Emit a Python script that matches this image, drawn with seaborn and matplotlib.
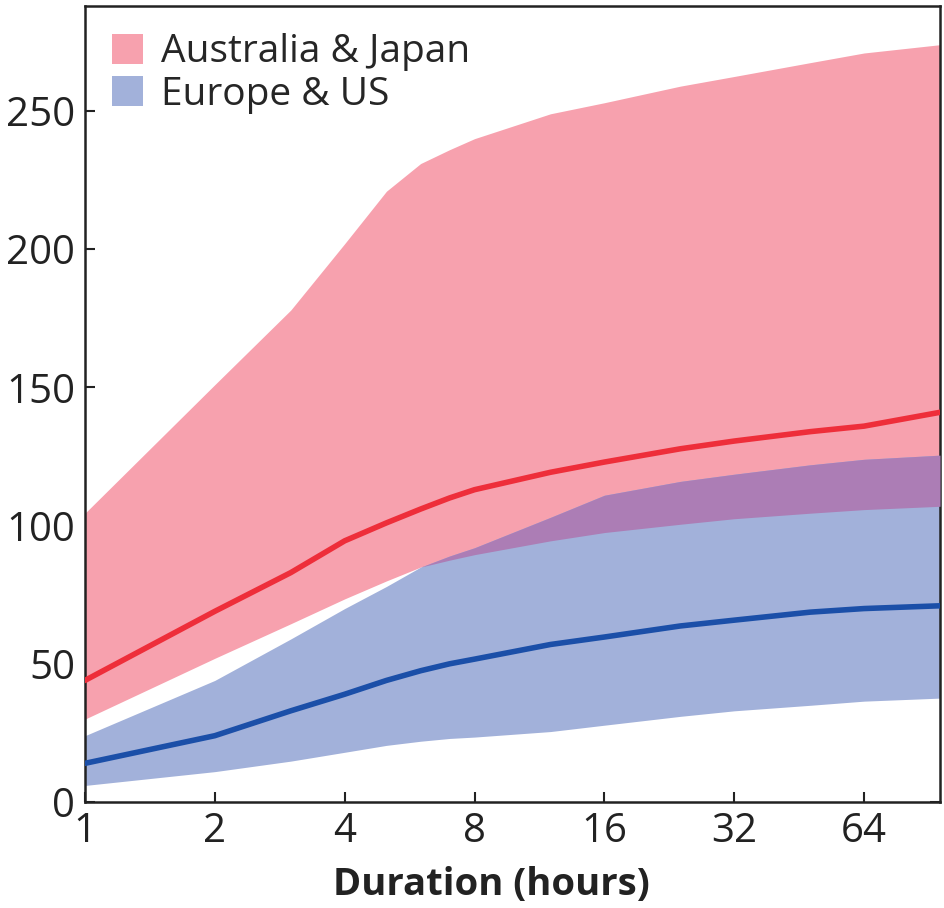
import matplotlib
matplotlib.use("Agg")
import matplotlib.pyplot as plt
import seaborn as sns
import numpy as np
import pandas as pd
from matplotlib.patches import Patch

# Data (duration in hours)
hours = [1, 2, 3, 4, 5, 6, 7, 8, 12, 16, 24, 32, 48, 64, 96]
aj_upper = [104.5, 151, 178, 202, 221, 231, 236, 240, 249, 253, 259, 262.5, 267.5, 271, 274]
aj_lower = [30, 52, 64.5, 73.5, 80, 85, 87.5, 89.5, 94.5, 97.5, 100.5, 102.5, 104.5, 105.8, 107]
aj_median = [44, 69, 83, 94.5, 101, 106, 110, 113, 119.3, 123, 127.8, 130.6, 134, 136, 141]
eu_upper = [24, 44, 59, 70, 78, 85, 89, 92, 103, 111, 116, 118.6, 122, 124, 125.5]
eu_lower = [6, 11, 14.8, 18, 20.5, 22, 23, 23.5, 25.5, 27.8, 31, 33, 35, 36.5, 37.6]
eu_median = [14, 24, 33, 39, 44, 47.5, 50, 51.7, 57, 59.7, 63.7, 65.8, 68.7, 70, 71]

series_names = ["Australia & Japan", "Europe & US"]
xticks = [1, 2, 4, 8, 16, 32, 64]
yticks = [0, 50, 100, 150, 200, 250]

pink = "#F7A1AE"
blue = "#A2B1DA"
purple = "#AC7DB5"
red_line = "#EE2E3A"
blue_line = "#1B4FA8"

sns.set_style("ticks")
plt.rcParams['font.family'] = ['Open Sans', 'DejaVu Sans']

fig = plt.figure(figsize=(9.44, 9.08), dpi=100)
ax = fig.add_axes([0.090, 0.1167, 0.9058, 0.8767])

x = np.array(hours, dtype=float)
aju = np.array(aj_upper); ajl = np.array(aj_lower)
euu = np.array(eu_upper); eul = np.array(eu_lower)

ax.fill_between(x, ajl, aju, color=pink, lw=0, zorder=1)
ax.fill_between(x, eul, euu, color=blue, lw=0, zorder=2)
ax.fill_between(x, ajl, np.minimum(euu, aju), where=euu >= ajl, interpolate=True,
                color=purple, lw=0, zorder=3)

df = pd.DataFrame({"hours": hours + hours,
                   "value": aj_median + eu_median,
                   "group": [series_names[0]] * len(hours) + [series_names[1]] * len(hours)})
sns.lineplot(data=df, x="hours", y="value", hue="group",
             palette={series_names[0]: red_line, series_names[1]: blue_line},
             linewidth=4, legend=False, ax=ax, zorder=4)

ax.set_xscale("log", base=2)
ax.set_xlim(1, 96)
ax.set_ylim(0, 288)
ax.set_xticks(xticks)
ax.set_xticklabels([str(t) for t in xticks])
ax.set_yticks(yticks)
ax.set_yticklabels([str(t) for t in yticks])
ax.xaxis.set_minor_locator(matplotlib.ticker.NullLocator())

ax.tick_params(axis="both", which="major", direction="in", length=7, width=1.5,
               labelsize=29, colors="#222222", pad=7)
ax.tick_params(axis="y", right=True, labelright=False)
ax.tick_params(axis="x", top=False)
for s in ax.spines.values():
    s.set_visible(True)
    s.set_linewidth(1.8)
    s.set_color("#222222")

ax.set_xlabel("Duration (hours)", fontsize=27.5, fontweight="bold", color="#222222")
ax.xaxis.set_label_coords(0.475, -0.104)
ax.xaxis.label.set_verticalalignment("center")
ax.set_ylabel("")

handles = [Patch(facecolor=pink, edgecolor="none", label=series_names[0]),
           Patch(facecolor=blue, edgecolor="none", label=series_names[1])]
ax.legend(handles=handles, loc="upper left", bbox_to_anchor=(0.0, 1.0), frameon=False,
          fontsize=28, handlelength=0.8, handleheight=0.8, handletextpad=0.45,
          labelspacing=0.12, borderaxespad=0.3)

fig.savefig("out.png", dpi=100)
